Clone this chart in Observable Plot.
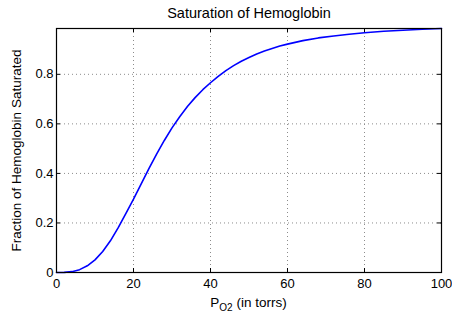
<!DOCTYPE html>
<html>
<head>
<meta charset="utf-8">
<script src="https://cdn.jsdelivr.net/npm/d3@7"></script>
<script src="https://cdn.jsdelivr.net/npm/@observablehq/plot@0.6"></script>
<style>
  html, body { margin: 0; padding: 0; background: #fff; }
  svg { display: block; }
</style>
</head>
<body>
<div id="chart"></div>
<script>
const chartTitle = "Saturation of Hemoglobin";
const yLabel = "Fraction of Hemoglobin Saturated";
const xTicks = [0, 20, 40, 60, 80, 100];
const yTicks = [0, 0.2, 0.4, 0.6, 0.8];
// P_O2 in torrs
const pressure = [0, 2, 4, 6, 8, 10, 12, 14, 16, 18, 20, 22, 24, 26, 28, 30, 32, 34, 36, 38, 40,
  42, 44, 46, 48, 50, 52, 54, 56, 58, 60, 64, 68, 72, 76, 80, 85, 90, 95, 100];
// fraction of hemoglobin saturated
const saturation = [0, 0.0004, 0.0034, 0.0115, 0.027, 0.051, 0.085, 0.128, 0.180, 0.238, 0.296,
  0.358, 0.419, 0.478, 0.533, 0.584, 0.629, 0.670, 0.706, 0.738, 0.766,
  0.792, 0.815, 0.835, 0.853, 0.868, 0.882, 0.894, 0.904, 0.914, 0.922, 0.936, 0.947, 0.955, 0.962, 0.968,
  0.974, 0.978, 0.982, 0.985];

const W = 452, H = 311;
const mL = 56, mR = 11, mT = 28, mB = 39;
const plotW = W - mL - mR, plotH = H - mT - mB;
const tickLen = 4;
const font = "'Liberation Sans', Arial, Helvetica, sans-serif";

const svg = Plot.plot({
  width: W,
  height: H,
  marginLeft: mL,
  marginRight: mR,
  marginTop: mT,
  marginBottom: mB,
  style: { fontFamily: font, fontSize: "13px", background: "#fff", color: "#000" },
  x: { domain: [0, 100] },
  y: { domain: [0, d3.max(saturation)] },
  marks: [
    Plot.gridX(xTicks, { stroke: "#8c8c8c", strokeOpacity: 1, strokeDasharray: "1,3" }),
    Plot.gridY(yTicks, { stroke: "#8c8c8c", strokeOpacity: 1, strokeDasharray: "1,3" }),
    Plot.tickX(xTicks, { stroke: "#000", insetTop: plotH - tickLen }),
    Plot.tickX(xTicks, { stroke: "#000", insetBottom: plotH - tickLen }),
    Plot.tickY(yTicks, { stroke: "#000", insetRight: plotW - tickLen }),
    Plot.tickY(yTicks, { stroke: "#000", insetLeft: plotW - tickLen }),
    Plot.line(pressure, { x: pressure, y: saturation, stroke: "#0000ff", strokeWidth: 1.6 }),
    Plot.frame({ stroke: "#000", strokeWidth: 1.2 }),
    Plot.axisX({ ticks: xTicks, tickSize: 0, tickPadding: 6, label: null, fontSize: 13, tickFormat: d => String(d) }),
    Plot.axisY({ ticks: yTicks, tickSize: 0, tickPadding: 3, label: null, fontSize: 13, tickFormat: d => String(d) }),
    Plot.text([chartTitle], { frameAnchor: "top", lineAnchor: "middle", textAnchor: "middle", dy: -15, fontSize: 14.5, fill: "#000" }),
    Plot.text([yLabel], { frameAnchor: "left", lineAnchor: "middle", textAnchor: "middle", dx: -40, rotate: -90, fontSize: 13.5, fill: "#000" })
  ]
});

const xl = d3.select(svg).append("text")
  .attr("x", mL + plotW / 2)
  .attr("y", 307)
  .attr("text-anchor", "middle")
  .attr("font-family", font)
  .attr("font-size", 13.5)
  .attr("fill", "#000");
xl.append("tspan").text("P");
xl.append("tspan").attr("dy", 4).attr("font-size", 10).text("O2");
xl.append("tspan").attr("dy", -4).text(" (in torrs)");

document.getElementById("chart").appendChild(svg);
</script>
</body>
</html>
